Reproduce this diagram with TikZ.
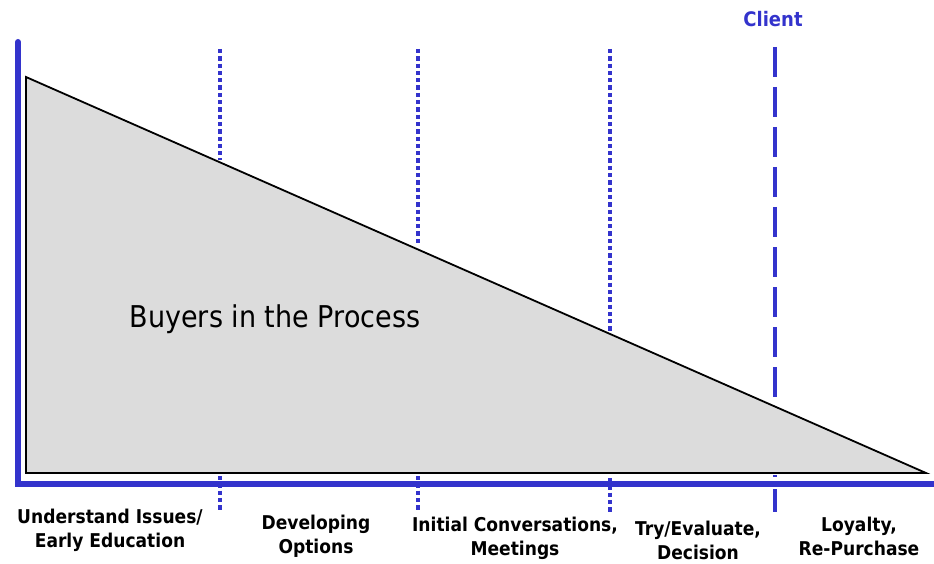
\documentclass[tikz,border=0pt]{standalone}
\usepackage{fontspec}
\setmainfont{DejaVu Sans}[FakeStretch=0.9]
\definecolor{axisblue}{HTML}{3333CC}
\definecolor{wedgegray}{HTML}{DCDCDC}
\begin{document}
\begin{tikzpicture}[x=1pt,y=-1pt,
  axis/.style={draw=axisblue,line width=6pt,line cap=round,line join=miter},
  wedge/.style={fill=wedgegray,draw=black,line width=1.8pt,line join=miter},
  stagedots/.style={draw=axisblue,line width=4.4pt,dash pattern=on 4.3pt off 3pt},
  clientdash/.style={draw=axisblue,line width=4.4pt,dash pattern=on 30pt off 10pt},
  stagelabel/.style={font=\fontsize{19}{24}\selectfont\bfseries,inner sep=0pt,anchor=base},
  bigtext/.style={font=\fontsize{30}{36}\selectfont,inner sep=0pt,anchor=base},
]
\useasboundingbox (0,0) rectangle (934,564);

% buyer volume wedge
\coordinate (wtop) at (26,77);
\coordinate (wbase) at (26,473);
\coordinate (wtip) at (926,473);
\path[wedge] (wtop) -- (wbase) -- (wtip) -- cycle;

% stage boundaries above the axis
\coordinate (s1t) at (220,49);  \coordinate (s1b) at (220,160);
\coordinate (s2t) at (418,49);  \coordinate (s2b) at (418,246);
\coordinate (s3t) at (610,49);  \coordinate (s3b) at (610,331);
\coordinate (s4t) at (775,47);  \coordinate (s4b) at (775,397);
\draw[stagedots] (s1t) -- (s1b);
\draw[stagedots] (s2t) -- (s2b);
\draw[stagedots] (s3t) -- (s3b);
\draw[clientdash] (s4t) -- (s4b);

% stage boundaries below the axis
\coordinate (u1t) at (220,476); \coordinate (u1b) at (220,512);
\coordinate (u2t) at (418,476); \coordinate (u2b) at (418,512);
\coordinate (u3t) at (610,478); \coordinate (u3b) at (610,512);
\coordinate (u4t) at (775,475); \coordinate (u4b) at (775,512);
\draw[stagedots] (u1t) -- (u1b);
\draw[stagedots] (u2t) -- (u2b);
\draw[stagedots] (u3t) -- (u3b);
\draw[draw=axisblue,line width=4.4pt,dash pattern=on 2pt off 12pt on 30pt] (u4t) -- (u4b);

% axes
\coordinate (ytop) at (18,42);
\coordinate (origin) at (18,484);
\coordinate (xend) at (934,484);
\draw[axis] (ytop) -- (origin) -- (xend);

% texts
\node[bigtext] (buyers) at (275,327) {Buyers in the Process};
\node[stagelabel,font=\fontsize{20}{24}\selectfont\bfseries,text=axisblue] (client) at (773,27) {Client};

\node[stagelabel] (st1) at (110,523) {\begin{tabular}[t]{@{}c@{}}Understand Issues/\\Early Education\end{tabular}};
\node[stagelabel] (st2) at (316,529) {\begin{tabular}[t]{@{}c@{}}Developing\\Options\end{tabular}};
\node[stagelabel] (st3) at (515,531) {\begin{tabular}[t]{@{}c@{}}Initial Conversations,\\Meetings\end{tabular}};
\node[stagelabel] (st4) at (698,535) {\begin{tabular}[t]{@{}c@{}}Try/Evaluate,\\Decision\end{tabular}};
\node[stagelabel] (st5) at (859,531) {\begin{tabular}[t]{@{}c@{}}Loyalty,\\Re-Purchase\end{tabular}};
\end{tikzpicture}
\end{document}
